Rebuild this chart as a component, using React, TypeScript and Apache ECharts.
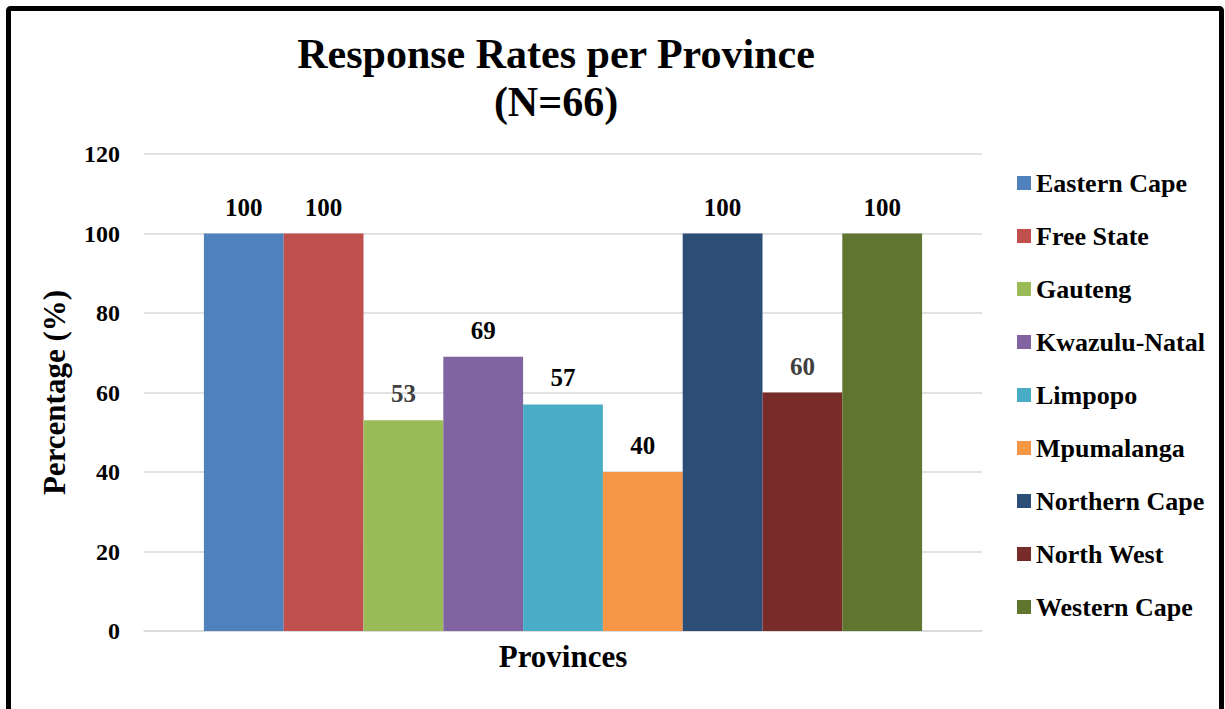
import React, { useEffect, useRef } from "react";
import * as echarts from "echarts";

// Response rate (%) per province
const provinces = [
  "Eastern Cape",
  "Free State",
  "Gauteng",
  "Kwazulu-Natal",
  "Limpopo",
  "Mpumalanga",
  "Northern Cape",
  "North West",
  "Western Cape",
];
const responseRates = [100, 100, 53, 69, 57, 40, 100, 60, 100];
const barColors = [
  "#4F81BD",
  "#C0504D",
  "#9BBB59",
  "#8064A2",
  "#4BACC6",
  "#F79646",
  "#2C4D75",
  "#772C2A",
  "#5F7530",
];
const labelColors = [
  "#000000",
  "#000000",
  "#404040",
  "#000000",
  "#000000",
  "#000000",
  "#000000",
  "#404040",
  "#000000",
];
const categories = [""];
const titleLines = ["Response Rates per Province", "(N=66)"];

const FONT = "'Liberation Serif', 'Times New Roman', serif";

export default function App() {
  const ref = useRef<HTMLDivElement>(null);

  useEffect(() => {
    if (!ref.current) return;
    const chart = echarts.init(ref.current, null, { renderer: "svg" });

    const series = provinces.map((name, i) => ({
      type: "bar" as const,
      name,
      data: [responseRates[i]],
      barGap: "0%",
      barCategoryGap: "14.3%",
      itemStyle: { color: barColors[i] },
      label: {
        show: true,
        position: "top" as const,
        distance: 14,
        fontFamily: FONT,
        fontWeight: "bold" as const,
        fontSize: 25,
        color: labelColors[i],
      },
    }));

    chart.setOption({
      animation: false,
      backgroundColor: "#ffffff",
      graphic: [
        {
          type: "rect",
          shape: { x: 8.5, y: 8.5, width: 1213, height: 760, r: 2 },
          style: { fill: "none", stroke: "#000000", lineWidth: 5 },
          silent: true,
        },
        {
          type: "text",
          x: 556,
          y: 54,
          style: {
            text: titleLines[0],
            font: `bold 42px ${FONT}`,
            fill: "#000000",
            textAlign: "center",
            textVerticalAlign: "middle",
          },
        },
        {
          type: "text",
          x: 556,
          y: 102,
          style: {
            text: titleLines[1],
            font: `bold 42px ${FONT}`,
            fill: "#000000",
            textAlign: "center",
            textVerticalAlign: "middle",
          },
        },
      ],
      legend: {
        orient: "vertical",
        left: 1012,
        top: 165,
        icon: "rect",
        itemWidth: 14,
        itemHeight: 14,
        itemGap: 27,
        textStyle: {
          fontFamily: FONT,
          fontWeight: "bold",
          fontSize: 26,
          lineHeight: 26,
          color: "#000000",
        },
        data: provinces,
      },
      grid: { left: 144, right: 243, top: 154, bottom: 78, containLabel: false },
      xAxis: {
        type: "category",
        data: categories,
        name: "Provinces",
        nameLocation: "middle",
        nameGap: 10,
        nameTextStyle: {
          fontFamily: FONT,
          fontWeight: "bold",
          fontSize: 31,
          color: "#000000",
          verticalAlign: "top",
        },
        axisLine: { show: true, lineStyle: { color: "#d9d9d9", width: 1.5 } },
        axisTick: { show: false },
        axisLabel: { show: false },
      },
      yAxis: {
        type: "value",
        min: 0,
        max: 120,
        interval: 20,
        name: "Percentage (%)",
        nameLocation: "middle",
        nameGap: 74,
        nameTextStyle: {
          fontFamily: FONT,
          fontWeight: "bold",
          fontSize: 31,
          color: "#000000",
        },
        axisLine: { show: false },
        axisTick: { show: false },
        axisLabel: {
          margin: 24,
          fontFamily: FONT,
          fontWeight: "bold",
          fontSize: 24,
          color: "#000000",
        },
        splitLine: { lineStyle: { color: "#d9d9d9", width: 1.5 } },
      },
      series,
    });

    return () => chart.dispose();
  }, []);

  return (
    <div
      ref={ref}
      style={{ position: "absolute", left: 0, top: 0, width: 1225, height: 709, background: "#fff" }}
    />
  );
}
